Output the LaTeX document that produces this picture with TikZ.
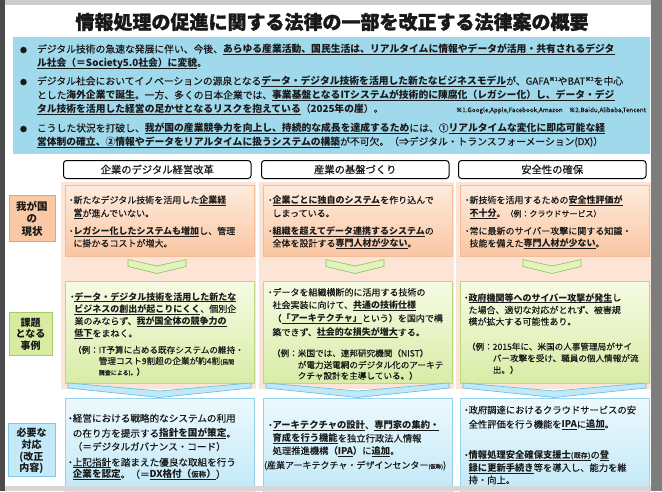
\documentclass[tikz,border=0pt]{standalone}
\usepackage{fontspec}
\setmainfont{Noto Sans CJK JP}[UprightFeatures={FakeBold=0.35}]
\newfontfamily\titlefont{Noto Sans CJK JP}[BoldFeatures={FakeBold=1.4}]
\definecolor{ink}{RGB}{25,25,25}
\definecolor{frameL}{RGB}{205,205,205}
\definecolor{frameD}{RGB}{75,75,75}
\definecolor{frameR}{RGB}{125,125,125}
\definecolor{frameB}{RGB}{215,215,215}
\definecolor{topblue}{RGB}{160,216,236}
\definecolor{peach}{RGB}{252,229,214}
\definecolor{orT}{RGB}{253,236,222}
\definecolor{orB}{RGB}{250,198,162}
\definecolor{orD}{RGB}{244,188,150}
\definecolor{grT}{RGB}{246,251,228}
\definecolor{grB}{RGB}{216,236,166}
\definecolor{grD}{RGB}{188,216,130}
\definecolor{chvF}{RGB}{226,243,192}
\definecolor{chvD}{RGB}{140,195,80}
\definecolor{bcF}{RGB}{192,232,247}
\definecolor{bcD}{RGB}{100,185,225}
\definecolor{blT}{RGB}{236,249,253}
\definecolor{blB}{RGB}{192,232,247}
\definecolor{blD}{RGB}{150,210,235}
\definecolor{lbO}{RGB}{249,200,165}
\definecolor{lbOD}{RGB}{235,160,110}
\definecolor{lbG}{RGB}{215,236,160}
\definecolor{lbGD}{RGB}{165,205,100}
\definecolor{lbB}{RGB}{196,233,248}
\definecolor{lbBD}{RGB}{125,200,230}
\newcounter{ln}
\tikzset{
 txt/.style={anchor=base west,inner sep=0pt,outer sep=0pt,text=ink},
 ctxt/.style={anchor=center,inner sep=0pt,outer sep=0pt,text=ink},
 hdrbox/.style={draw=black,line width=1pt,rounded corners=3pt,fill=white},
 orbox/.style={top color=orT,bottom color=orB,draw=orD,line width=0.6pt},
 grbox/.style={top color=grT,bottom color=grB,draw=grD,line width=0.6pt},
 blbox/.style={top color=blT,bottom color=blB,draw=blD,line width=0.6pt},
 gchev/.style={fill=chvF,draw=chvD,line width=0.6pt},
 bchev/.style={fill=bcF,draw=bcD,line width=0.6pt},
}
\newcommand\TL[4][txt]{\stepcounter{ln}\node[#1] (ln\theln) at (#2,#3) {#4};}
\newcommand\ulb[1]{\begingroup\setbox0=\hbox{\bfseries#1}\rlap{\rule[-0.22em]{\wd0}{0.07em}}\box0\endgroup}
\newcommand\ulr[1]{\begingroup\setbox0=\hbox{#1}\rlap{\rule[-0.22em]{\wd0}{0.07em}}\box0\endgroup}
\newcommand\bul{\makebox[0.5em][c]{・}}
\newcommand\ind{\hspace*{0.5em}}
\newcommand\fs[1]{\fontsize{#1}{#1}\selectfont}
\newcommand\nt[1]{\raisebox{0.38em}{\fs{5.5}#1}}
\newcommand\gchevron[1]{\filldraw[gchev] (#1-29,259.5) -- (#1,266) -- (#1+29,259.5) -- (#1+29,266.5) -- (#1,273.5) -- (#1-29,266.5) -- cycle;}
\newcommand\bchevron[3]{\filldraw[bchev] (#1,383) -- (#3,391) -- (#2,383) -- (#2,388) -- (#3,397.5) -- (#1,388) -- cycle;}
\begin{document}
\begin{tikzpicture}[x=1pt,y=-1pt]
\useasboundingbox (0,0) rectangle (662,491);
% frame
\fill[frameL] (0,0) rectangle (662,491);
\fill[frameR] (651,0) rectangle (662,491);
\fill[white] (5,5) rectangle (651,486);
\fill[frameD] (0,0) rectangle (5,491);
% title
\TL[ctxt]{332}{22}{\fs{19}\titlefont\bfseries 情報処理の促進に関する法律の一部を改正する法律案の概要}
% top box
\fill[topblue] (13,37) rectangle (650,154);
\begin{scope}[every node/.append style={font=\fs{9.8}}]
\TL{20}{52.7}{\fs{7}●}
\TL{20}{84.7}{\fs{7}●}
\TL{20}{131.7}{\fs{7}●}
\TL{37}{52.7}{デジタル技術の急速な発展に伴い、今後、\ulb{あらゆる産業活動、国民生活は、リアルタイムに情報やデータが活用・共有されるデジタ}}
\TL{37}{66.2}{\ulb{ル社会（＝Society5.0社会）に変貌}。}
\TL{37}{84.7}{デジタル社会においてイノベーションの源泉となる\ulb{データ・デジタル技術を活用した新たなビジネスモデル}が、GAFA\nt{※1}やBAT\nt{※2}を中心}
\TL{37}{98.7}{とした\ulb{海外企業で誕生}。一方、多くの日本企業では、\ulb{事業基盤となるITシステムが技術的に陳腐化（レガシー化）し、データ・デジ}}
\TL{37}{112.2}{\ulb{タル技術を活用した経営の足かせとなるリスクを抱えている}（\textbf{2025年の崖}）。}
\TL[txt,anchor=base east]{646}{112.2}{\fs{6.3}※1.Google,Apple,Facebook,Amazon\quad ※2.Baidu,Alibaba,Tencent}
\TL{37}{131.7}{こうした状況を打破し、\ulb{我が国の産業競争力を向上し、持続的な成長を達成するため}には、①\ulb{リアルタイムな変化に即応可能な経}}
\TL{37}{145.2}{\ulb{営体制の確立、②情報やデータをリアルタイムに扱うシステムの構築}が不可欠。（⇒デジタル・トランスフォーメーション(DX)）}
\end{scope}
% column headers
\draw[hdrbox] (63.5,160.5) rectangle (251,178.5);
\draw[hdrbox] (261.5,160.5) rectangle (449,178.5);
\draw[hdrbox] (458.5,160.5) rectangle (646,178.5);
\begin{scope}[every node/.append style={font=\fs{10.3}}]
\TL[ctxt]{157.25}{169.5}{企業のデジタル経営改革}
\TL[ctxt]{355.25}{169.5}{産業の基盤づくり}
\TL[ctxt]{552.25}{169.5}{安全性の確保}
\end{scope}
% peach panels
\fill[peach] (61,182) rectangle (256,389);
\fill[peach] (259,182) rectangle (454,389);
\fill[peach] (456,182) rectangle (651,389);
% orange boxes
\shadedraw[orbox] (65,185) rectangle (254,256);
\shadedraw[orbox] (263,185) rectangle (452,256);
\shadedraw[orbox] (460,185) rectangle (649,256);
% green chevrons
\gchevron{157}
\gchevron{355}
\gchevron{552}
% green boxes
\shadedraw[grbox] (65,281) rectangle (254,383);
\shadedraw[grbox] (263,281) rectangle (452,383);
\shadedraw[grbox] (460,281) rectangle (649,383);
% blue chevrons
\bchevron{68}{251}{159.5}
\bchevron{266}{449}{357.5}
\bchevron{463}{646}{554.5}
% blue boxes
\shadedraw[blbox] (65,398) rectangle (254,495);
\shadedraw[blbox] (263,398) rectangle (452,495);
\shadedraw[blbox] (460,398) rectangle (649,495);
% orange texts
\begin{scope}[every node/.append style={font=\fs{9}}]
\TL{69}{203.4}{\bul 新たなデジタル技術を活用した\ulb{企業経}}
\TL{69}{216.7}{\ind\ulb{営}が進んでいない。}
\TL{69}{234.4}{\bul\ulb{レガシー化したシステムも増加}し、管理}
\TL{69}{246.7}{\ind に掛かるコストが増大。}
\TL{268}{203.4}{\bul\ulb{企業ごとに独自のシステム}を作り込んで}
\TL{268}{216.7}{\ind しまっている。}
\TL{268}{234.4}{\bul\ulb{組織を超えてデータ連携するシステム}の}
\TL{268}{246.7}{\ind 全体を設計する\ulb{専門人材が少ない}。}
\TL{465}{203.4}{\bul 新技術を活用するための\ulb{安全性評価が}}
\TL{465}{216.7}{\ind\ulb{不十分}。{\fs{8}（例：クラウドサービス）}}
\TL{465}{234.4}{\bul 常に最新のサイバー攻撃に関する知識・}
\TL{465}{246.7}{\ind 技能を備えた\ulb{専門人材が少ない}。}
% green texts
\TL{70}{300}{\bul\ulb{データ・デジタル技術を活用した新たな}}
\TL{70}{312.2}{\ind\ulb{ビジネスの創出が起こりにくく}、個別企}
\TL{70}{324.5}{\ind 業のみならず、\ulb{我が国全体の競争力の}}
\TL{70}{336.7}{\ind\ulb{低下}をまねく。}
\TL{268}{295.7}{\bul データを組織横断的に活用する技術の}
\TL{268}{308.4}{\ind 社会実装に向けて、\ulb{共通の技術仕様}}
\TL{268}{321.7}{\ind（\ulb{「アーキテクチャ」}という）を国内で構}
\TL{268}{335.7}{\ind 築できず、\ulb{社会的な損失が増大}する。}
\TL{464}{301}{\bul\ulb{政府機関等へのサイバー攻撃が発生}し}
\TL{464}{313.4}{\ind た場合、適切な対応がとれず、被害規}
\TL{464}{325}{\ind 模が拡大する可能性あり。}
\end{scope}
\begin{scope}[every node/.append style={font=\fs{8.6}}]
\TL{73}{353.2}{（例：IT予算に占める既存システムの維持・}
\TL{73}{364.2}{\phantom{（例：}管理コスト9割超の企業が約4割{\fs{6}(民間}}
\TL{73}{375}{\phantom{（例：}{\fs{6}調査による)。}）}
\TL{272}{356.5}{（例：米国では、連邦研究機関（NIST）}
\TL{272}{368.2}{\phantom{（例：}が電力送電網のデジタル化のアーキテ}
\TL{272}{379}{\phantom{（例：}クチャ設計を主導している。）}
\TL{467}{349.9}{（例：2015年に、米国の人事管理局がサイ}
\TL{467}{361.5}{\phantom{（例：}バー攻撃を受け、職員の個人情報が流}
\TL{467}{373.2}{\phantom{（例：}出。）}
\end{scope}
% blue texts
\begin{scope}[every node/.append style={font=\fs{9.6}}]
\TL{68}{421.9}{\bul 経営における戦略的なシステムの利用}
\TL{68}{436.9}{\ind の在り方を提示する\ulb{指針を国が策定}。}
\TL{68}{450.3}{\ind（＝デジタルガバナンス・コード）}
\TL{68}{465.9}{\bul\ulr{上記指針}を踏まえた優良な取組を行う}
\TL{68}{477.9}{\ind\ulb{企業を認定}。（＝\ulb{DX格付（{\fs{7.5}仮称}）}）}
\end{scope}
\begin{scope}[every node/.append style={font=\fs{9.3}}]
\TL{268}{428.5}{\bul\ulb{アーキテクチャの設計}、\ulb{専門家の集約・}}
\TL{268}{441.8}{\ind\ulb{育成を行う機能}を独立行政法人情報}
\TL{268}{454.2}{\ind 処理推進機構（\ulb{IPA}）に\ulb{追加}。}
\TL{264}{468.5}{\fs{9}(産業アーキテクチャ・デザインセンター{\fs{5.5}(仮称)})}
\TL{464}{413.5}{\bul 政府調達におけるクラウドサービスの安}
\TL{464}{427.8}{\ind 全性評価を行う機能を\ulb{IPA}に\ulb{追加}。}
\TL{464}{458.5}{\bul\ulb{情報処理安全確保支援士{\fs{7}(既存)}}の\ulb{登}}
\TL{464}{471.2}{\ind\ulb{録に更新手続き}等を導入し、能力を維}
\TL{464}{483.5}{\ind 持・向上。}
\end{scope}
% left labels
\filldraw[fill=lbO,draw=lbOD,line width=0.6pt] (9,195) rectangle (55,241);
\filldraw[fill=lbG,draw=lbGD,line width=0.6pt] (9,312) rectangle (52,355);
\filldraw[fill=lbB,draw=lbBD,line width=0.6pt] (8,423) rectangle (55,476);
\begin{scope}[every node/.append style={font=\fs{10.5}\bfseries}]
\TL[ctxt]{32}{206.7}{我が国}
\TL[ctxt]{32}{218.5}{の}
\TL[ctxt]{32}{231.5}{現状}
\end{scope}
\begin{scope}[every node/.append style={font=\fs{10}\bfseries}]
\TL[ctxt]{30.5}{322.5}{課題}
\TL[ctxt]{30.5}{334}{となる}
\TL[ctxt]{30.5}{345.5}{事例}
\TL[ctxt]{31.5}{433}{必要な}
\TL[ctxt]{31.5}{445}{対応}
\TL[ctxt]{31.5}{457}{(改正}
\TL[ctxt]{31.5}{468.5}{内容)}
\end{scope}
% bottom band
\fill[frameB] (5,486) rectangle (651,491);
\end{tikzpicture}
\end{document}
